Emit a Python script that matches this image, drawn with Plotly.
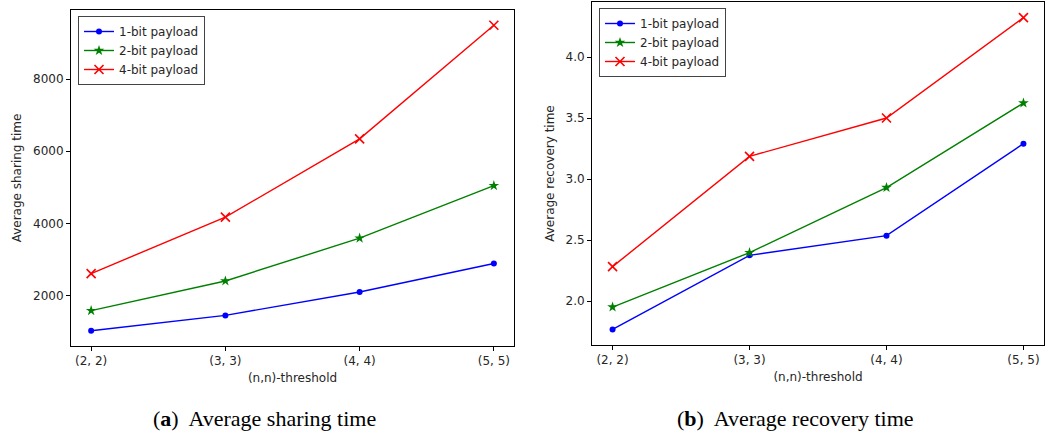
import plotly.graph_objects as go

categories = ["(2, 2)", "(3, 3)", "(4, 4)", "(5, 5)"]
series_names = ["1-bit payload", "2-bit payload", "4-bit payload"]

sharing_1bit = [1028, 1453, 2100, 2889]
sharing_2bit = [1583, 2406, 3592, 5045]
sharing_4bit = [2611, 4175, 6342, 9489]

recovery_1bit = [1.768, 2.375, 2.536, 3.290]
recovery_2bit = [1.951, 2.397, 2.930, 3.623]
recovery_4bit = [2.282, 3.186, 3.500, 4.323]

W, H = 1061, 432
FONT = "DejaVu Sans"
TXT = "#262626"

colors = ["#0000ff", "#008000", "#ff0000"]
symbols = ["circle", "star", "x-thin"]
msizes = [6, 8, 9]

fig = go.Figure()

def add_series(vals_list, xa, ya, legend):
    for name, vals, c, s, ms in zip(series_names, vals_list, colors, symbols, msizes):
        marker = dict(symbol=s, size=ms, color=c)
        if s == "x-thin":
            marker["line"] = dict(color=c, width=1.6)
        else:
            marker["line"] = dict(width=0)
        fig.add_trace(go.Scatter(
            x=list(range(len(categories))), y=vals, mode="lines+markers", name=name,
            line=dict(color=c, width=1.4), marker=marker,
            xaxis=xa, yaxis=ya, legend=legend))

add_series([sharing_1bit, sharing_2bit, sharing_4bit], "x", "y", "legend")
add_series([recovery_1bit, recovery_2bit, recovery_4bit], "x2", "y2", "legend2")

def px_x(p):
    return p / W

def px_y(p):
    return 1 - p / H

axis_common = dict(
    showline=True, linecolor="black", linewidth=1, mirror=True,
    ticks="outside", ticklen=4, tickcolor="black", showgrid=False, zeroline=False,
    tickfont=dict(family=FONT, size=12, color=TXT),
)

fig.update_layout(
    width=W, height=H, margin=dict(l=0, r=0, t=0, b=0),
    paper_bgcolor="white", plot_bgcolor="white",
    font=dict(family=FONT, size=12, color=TXT),
    xaxis=dict(domain=[px_x(71), px_x(514)], anchor="y", range=[-0.15, 3.15],
               tickvals=list(range(4)), ticktext=categories,
               title=dict(text="(n,n)-threshold", font=dict(size=12, color=TXT), standoff=6),
               **axis_common),
    yaxis=dict(domain=[px_y(346), px_y(10)], anchor="x", range=[605, 9912],
               tickvals=[2000, 4000, 6000, 8000],
               title=dict(text="Average sharing time", font=dict(size=12, color=TXT), standoff=8),
               **axis_common),
    xaxis2=dict(domain=[px_x(592), px_x(1044)], anchor="y2", range=[-0.15, 3.15],
                tickvals=list(range(4)), ticktext=categories,
                title=dict(text="(n,n)-threshold", font=dict(size=12, color=TXT), standoff=6),
                **axis_common),
    yaxis2=dict(domain=[px_y(345), px_y(2)], anchor="x2", range=[1.64, 4.451],
                tickvals=[2.0, 2.5, 3.0, 3.5, 4.0], tickformat=".1f",
                title=dict(text="Average recovery time", font=dict(size=12, color=TXT), standoff=8),
                **axis_common),
    legend=dict(x=px_x(78), y=px_y(16), xanchor="left", yanchor="top",
                bgcolor="white", bordercolor="#444", borderwidth=1,
                font=dict(family=FONT, size=12, color=TXT), tracegroupgap=0,
                itemwidth=30),
    legend2=dict(x=px_x(599), y=px_y(8), xanchor="left", yanchor="top",
                 bgcolor="white", bordercolor="#444", borderwidth=1,
                 font=dict(family=FONT, size=12, color=TXT), tracegroupgap=0,
                 itemwidth=30),
    showlegend=True,
)

cap_font = dict(family="Liberation Serif", size=22, color="black")
fig.add_annotation(text="(<b>a</b>)  Average sharing time", x=px_x(264), y=px_y(418),
                   xref="paper", yref="paper", showarrow=False, font=cap_font,
                   xanchor="center", yanchor="middle")
fig.add_annotation(text="(<b>b</b>)  Average recovery time", x=px_x(795), y=px_y(418),
                   xref="paper", yref="paper", showarrow=False, font=cap_font,
                   xanchor="center", yanchor="middle")

fig.write_html("out.html")
